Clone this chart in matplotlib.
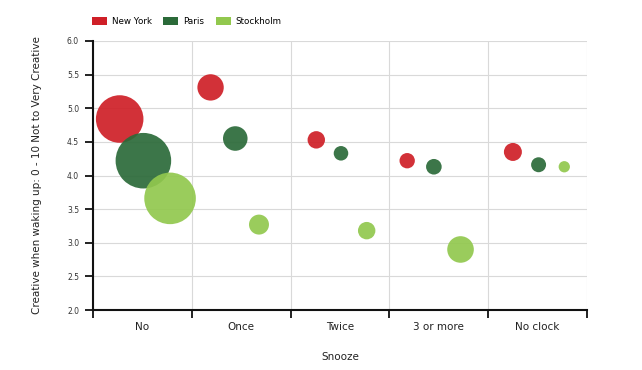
import matplotlib
matplotlib.use("Agg")
import matplotlib.pyplot as plt
from matplotlib.patches import Patch

categories = ["No", "Once", "Twice", "3 or more", "No clock"]
series = ["New York", "Paris", "Stockholm"]
colors = ["#cf1f27", "#2b6a39", "#92c84e"]

# creativity score (y)
ny_y = [4.84, 5.31, 4.53, 4.22, 4.35]
paris_y = [4.22, 4.55, 4.33, 4.13, 4.16]
sthlm_y = [3.66, 3.27, 3.18, 2.90, 4.13]

# position inside each category band (0..1)
ny_x = [0.27, 0.19, 0.26, 0.18, 0.25]
paris_x = [0.51, 0.44, 0.51, 0.45, 0.51]
sthlm_x = [0.78, 0.68, 0.77, 0.72, 0.77]

# bubble size (respondent count, relative)
ny_n = [566, 174, 76, 59, 81]
paris_n = [773, 151, 53, 61, 56]
sthlm_n = [666, 100, 76, 177, 32]

yticks = [2.0, 2.5, 3.0, 3.5, 4.0, 4.5, 5.0, 5.5, 6.0]

fig = plt.figure(figsize=(6.42, 3.70), dpi=100)
ax = fig.add_axes([93 / 642, 1 - 310 / 370, (587 - 93) / 642, (310 - 41) / 370])

all_y = [ny_y, paris_y, sthlm_y]
all_x = [ny_x, paris_x, sthlm_x]
all_n = [ny_n, paris_n, sthlm_n]
for name, col, xs, ys, ns in zip(series, colors, all_x, all_y, all_n):
    px = [i + o for i, o in enumerate(xs)]
    ax.scatter(px, ys, s=[2.07 * n for n in ns], color=col, alpha=0.92,
               linewidths=0, zorder=3, label=name)

ax.set_xlim(0, len(categories))
ax.set_ylim(2.0, 6.0)
ax.set_yticks(yticks)
ax.set_yticklabels([f"{v:.1f}" for v in yticks], fontsize=5.5, color="#333333")
ax.set_xticks(range(len(categories) + 1))
ax.set_xticklabels([])
ax.set_xticks([i + 0.5 for i in range(len(categories))], minor=True)
ax.set_xticklabels(categories, minor=True, fontsize=7.5, color="#222222")
ax.tick_params(axis="x", which="minor", length=0, pad=9)
ax.tick_params(axis="x", which="major", length=6, width=1.3, color="#111111")
ax.tick_params(axis="y", length=6, width=1.3, color="#111111", pad=4)

ax.grid(True, which="major", color="#d9d9d9", linewidth=0.8, zorder=0)
ax.set_axisbelow(True)
for sp in ["top", "right"]:
    ax.spines[sp].set_visible(False)
for sp in ["left", "bottom"]:
    ax.spines[sp].set_linewidth(1.5)
    ax.spines[sp].set_color("#111111")

ax.set_xlabel("Snooze", fontsize=7.5, color="#222222", labelpad=14)
ax.set_ylabel("Creative when waking up: 0 - 10 Not to Very Creative",
              fontsize=7.5, color="#222222", labelpad=18)

handles = [Patch(facecolor=c, edgecolor="none", label=s) for s, c in zip(series, colors)]
fig.legend(handles=handles, loc="center left", bbox_to_anchor=(91.7 / 642, 1 - 21.5 / 370),
           ncol=3, frameon=False, fontsize=6.3, handlelength=1.7, handleheight=0.9,
           handletextpad=0.6, columnspacing=1.3, borderpad=0, borderaxespad=0)

fig.savefig("out.png", dpi=100)
